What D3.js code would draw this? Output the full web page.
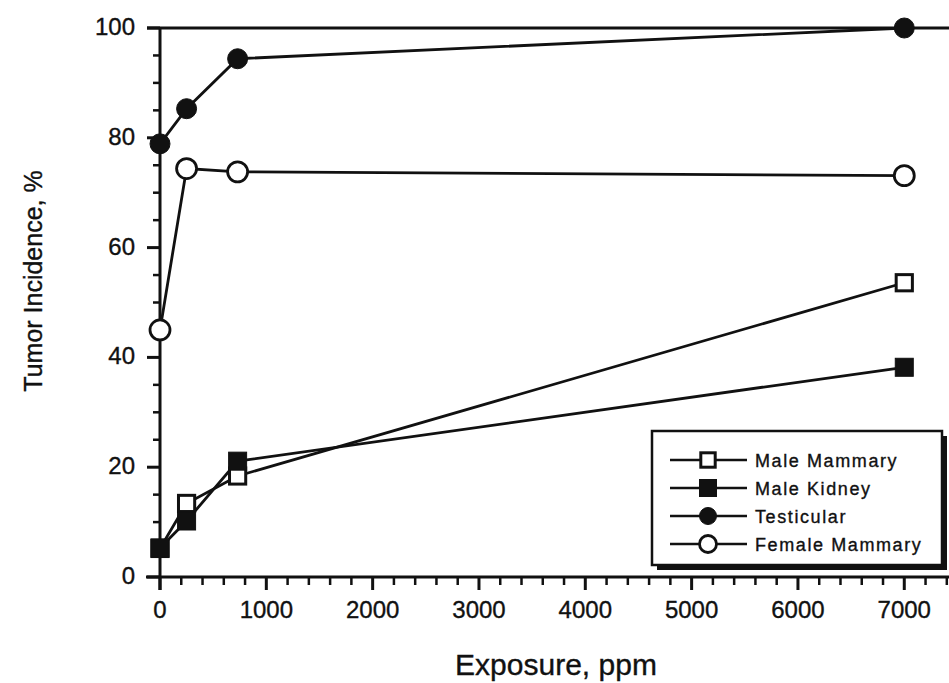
<!DOCTYPE html>
<html>
<head>
<meta charset="utf-8">
<script src="https://cdn.jsdelivr.net/npm/d3@7"></script>
<style>
  html, body { margin: 0; padding: 0; background: #fff; }
  svg { display: block; }
  text { font-family: "Liberation Sans", Arial, Helvetica, sans-serif; fill: #111; stroke: #111; stroke-width: 0.35px; }
</style>
</head>
<body>
<svg id="chart" width="949" height="683"></svg>
<script>
// ---- data ----
const exposure = [0, 250, 730, 7000];
const maleMammary   = [5.2, 13.4, 18.4, 53.6];
const maleKidney    = [5.3, 10.2, 21.1, 38.2];
const testicular    = [78.9, 85.3, 94.4, 100];
const femaleMammary = [45.0, 74.4, 73.8, 73.1];
const seriesNames = ["Male Mammary", "Male Kidney", "Testicular", "Female Mammary"];
const seriesMarkers = ["openSquare", "filledSquare", "filledCircle", "openCircle"];
const xTickValues = [0, 1000, 2000, 3000, 4000, 5000, 6000, 7000];
const yTickValues = [0, 20, 40, 60, 80, 100];
const xTitle = "Exposure, ppm";
const yTitle = "Tumor Incidence, %";

const seriesValues = [maleMammary, maleKidney, testicular, femaleMammary];

const svg = d3.select("#chart");
const x = d3.scaleLinear().domain([0, 7430]).range([160, 950]);
const y = d3.scaleLinear().domain([0, 100]).range([577, 28]);
const ink = "#111";

// y=100 reference line across the top
svg.append("line")
  .attr("x1", 147).attr("x2", 949)
  .attr("y1", y(100)).attr("y2", y(100))
  .attr("stroke", ink).attr("stroke-width", 2.8);

// x axis
const xAxis = svg.append("g").attr("transform", `translate(0,${y(0)})`);
xAxis.append("line").attr("x1", 146).attr("x2", 949).attr("y1", 0).attr("y2", 0)
  .attr("stroke", ink).attr("stroke-width", 3);
xAxis.call(g => {
  const minor = d3.range(0, 7401, 200).filter(v => v % 1000 !== 0);
  g.selectAll(".xminor").data(minor).enter().append("line")
    .attr("x1", d => x(d)).attr("x2", d => x(d)).attr("y1", 0).attr("y2", 8)
    .attr("stroke", ink).attr("stroke-width", 2.5);
  g.selectAll(".xmajor").data(xTickValues).enter().append("line")
    .attr("x1", d => x(d)).attr("x2", d => x(d)).attr("y1", 0).attr("y2", 13)
    .attr("stroke", ink).attr("stroke-width", 3);
  g.selectAll(".xlab").data(xTickValues).enter().append("text")
    .attr("x", d => x(d)).attr("y", 41)
    .attr("text-anchor", "middle").attr("font-size", 24)
    .text(d => d3.format("d")(d));
});

// y axis
const yAxis = svg.append("g").attr("transform", `translate(${x(0)},0)`);
yAxis.append("line").attr("x1", 0).attr("x2", 0).attr("y1", y(100)).attr("y2", y(0) + 13)
  .attr("stroke", ink).attr("stroke-width", 3);
yAxis.call(g => {
  const minor = d3.range(5, 100, 5).filter(v => v % 20 !== 0);
  g.selectAll(".yminor").data(minor).enter().append("line")
    .attr("x1", -7).attr("x2", 0).attr("y1", d => y(d)).attr("y2", d => y(d))
    .attr("stroke", ink).attr("stroke-width", 2.5);
  g.selectAll(".ymajor").data(yTickValues).enter().append("line")
    .attr("x1", -13).attr("x2", 0).attr("y1", d => y(d)).attr("y2", d => y(d))
    .attr("stroke", ink).attr("stroke-width", 3);
  g.selectAll(".ylab").data(yTickValues).enter().append("text")
    .attr("x", -25).attr("y", d => y(d) + 7)
    .attr("text-anchor", "end").attr("font-size", 24)
    .text(d => d);
});

// axis titles
svg.append("text").attr("x", 556).attr("y", 675)
  .attr("text-anchor", "middle").attr("font-size", 30).text(xTitle);
svg.append("text")
  .attr("transform", `translate(42,281) rotate(-90)`)
  .attr("text-anchor", "middle").attr("font-size", 25).text(yTitle);

// markers
function drawMarker(g, type, cx, cy, size) {
  if (type === "openSquare" || type === "filledSquare") {
    const s = type === "openSquare" ? size * 0.9 : size;
    g.append("rect").attr("x", cx - s / 2).attr("y", cy - s / 2)
      .attr("width", s).attr("height", s)
      .attr("fill", type === "filledSquare" ? ink : "#fff")
      .attr("stroke", ink).attr("stroke-width", type === "openSquare" ? 3 : 1);
  } else {
    g.append("circle").attr("cx", cx).attr("cy", cy).attr("r", size / 2)
      .attr("fill", type === "filledCircle" ? ink : "#fff")
      .attr("stroke", ink).attr("stroke-width", type === "openCircle" ? 2.8 : 1);
  }
}

const line = d3.line().x(d => x(d[0])).y(d => y(d[1]));
const plot = svg.append("g");
seriesValues.forEach((vals, i) => {
  const pts = exposure.map((e, j) => [e, vals[j]]);
  plot.append("path").attr("d", line(pts))
    .attr("fill", "none").attr("stroke", ink).attr("stroke-width", 2.8);
});
seriesValues.forEach((vals, i) => {
  exposure.forEach((e, j) => {
    const type = seriesMarkers[i];
    const size = type.includes("Circle") ? 20 : 18;
    drawMarker(plot, type, x(e), y(vals[j]), size);
  });
});

// legend
const lg = svg.append("g");
const lx = 652, ly = 431, lw = 290, lh = 134;
lg.append("rect").attr("x", lx + 5).attr("y", ly + 5).attr("width", lw).attr("height", lh).attr("fill", ink);
lg.append("rect").attr("x", lx).attr("y", ly).attr("width", lw).attr("height", lh)
  .attr("fill", "#fff").attr("stroke", ink).attr("stroke-width", 2.5);
const rowY = [460, 488, 516, 544];
seriesNames.forEach((name, i) => {
  const cy = rowY[i];
  lg.append("line").attr("x1", 670).attr("x2", 747).attr("y1", cy).attr("y2", cy)
    .attr("stroke", ink).attr("stroke-width", 2.5);
  const type = seriesMarkers[i];
  drawMarker(lg, type, 708, cy, type === "openSquare" ? 16 : 17);
  lg.append("text").attr("x", 755).attr("y", cy + 7)
    .attr("font-size", 18).attr("letter-spacing", 1.6).text(name);
});
</script>
</body>
</html>
